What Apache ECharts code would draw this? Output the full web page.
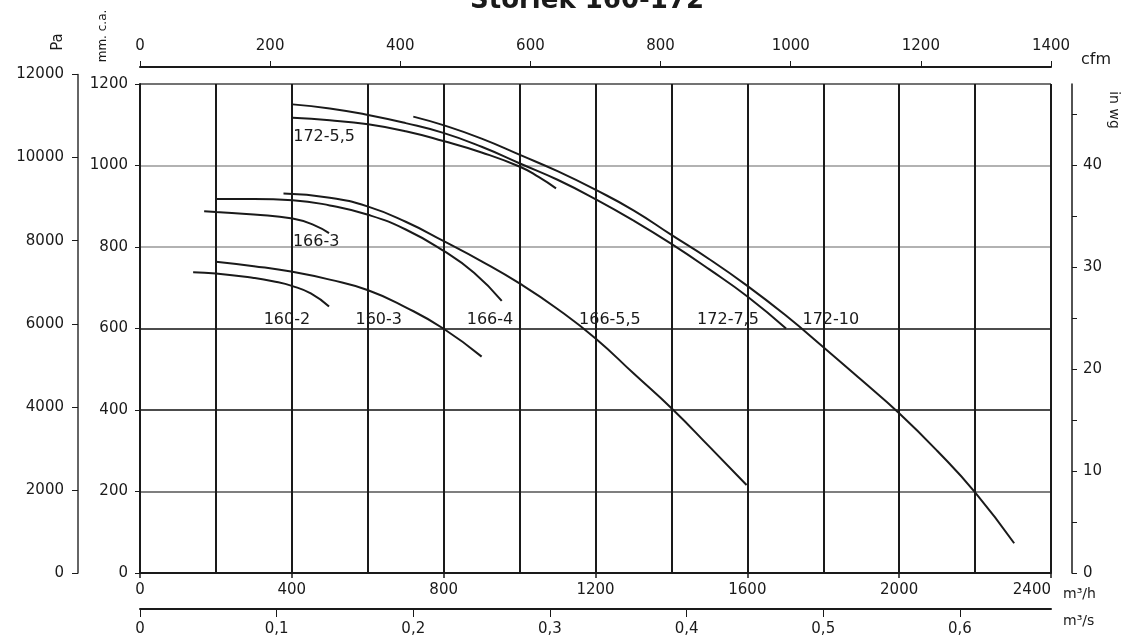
<!DOCTYPE html>
<html>
<head>
<meta charset="utf-8">
<script src="https://cdn.jsdelivr.net/npm/echarts@6/dist/echarts.min.js"></script>
<style>
html,body{margin:0;padding:0;background:#fff}
#chart{width:1135px;height:641px}
</style>
</head>
<body>
<div id="chart"></div>
<script>
// fan curves: [flow m3/h, pressure mm c.a.]
var curve160_2 = [[140,738],[200,735],[300,724],[350,716],[402,704],[450,686],[498,654]];
var curve160_3 = [[200,764],[300,753],[402,739],[500,720],[601,694],[700,652],[799,600],[900,531]];
var curve166_3 = [[169,888],[200,886],[300,880],[402,870],[460,853],[498,834]];
var curve166_4 = [[200,918],[300,918],[402,915],[500,902],[601,879],[700,843],[799,791],[880,737],[953,668]];
var curve166_55 = [[378,931],[500,921],[601,899],[700,862],[799,815],[900,765],[1001,710],[1100,648],[1201,575],[1300,490],[1405,400],[1500,310],[1598,216]];
var curve172_55 = [[402,1117],[500,1111],[601,1101],[700,1084],[799,1060],[900,1032],[1001,997],[1050,972],[1096,944]];
var curve172_75 = [[402,1150],[500,1140],[601,1124],[700,1104],[799,1080],[900,1046],[1001,1005],[1100,965],[1201,917],[1300,865],[1401,807],[1500,745],[1601,678],[1702,600]];
var curve172_10 = [[720,1120],[799,1099],[900,1066],[1001,1026],[1100,986],[1201,940],[1300,890],[1401,829],[1500,770],[1601,704],[1700,633],[1802,553],[1900,474],[2000,392],[2100,300],[2200,198],[2303,73]];

var curves = [curve160_2, curve160_3, curve166_3, curve166_4, curve166_55, curve172_55, curve172_75, curve172_10];
var curveNames = ['160-2', '160-3', '166-3', '166-4', '166-5,5', '172-5,5', '172-7,5', '172-10'];
// where each name sits (m3/h, mm c.a.)
var labelFlow = [387, 629, 464, 922, 1238, 485, 1549, 1820];
var labelPress = [622, 622, 813, 622, 622, 1070, 622, 622];

var flowTicks = [0, 400, 800, 1200, 1600, 2000, 2400];
var m3sTicks = [0, 0.1, 0.2, 0.3, 0.4, 0.5, 0.6];
var inwgTicks = [0, 10, 20, 30, 40];
var inwgMinorTicks = [0, 5, 10, 15, 20, 25, 30, 35, 40, 45];

var FONT = 'DejaVu Sans';
var INK = '#1a1a1a';
function plain(v) { return String(v); }
var lbl = {fontFamily: FONT, fontSize: 15, color: INK, formatter: plain};

var chart = echarts.init(document.getElementById('chart'));

var series = curves.map(function (c, i) {
	return {
		name: curveNames[i],
		type: 'line',
		data: c,
		smooth: 0.5,
		showSymbol: false,
		silent: true,
		lineStyle: {color: INK, width: 2}
	};
});

series.push({
	type: 'scatter',
	symbolSize: 0,
	silent: true,
	itemStyle: {color: INK, opacity: 1},
	data: labelFlow.map(function (x, i) { return [x, labelPress[i], curveNames[i]]; }),
	label: {
		show: true,
		position: 'inside',
		formatter: function (p) { return p.data[2]; },
		fontFamily: FONT,
		fontSize: 16,
		color: INK,
		opacity: 1
	}
});

var option = {
	animation: false,
	backgroundColor: '#fff',
	title: {
		text: 'Storlek 160-172',
		left: 470,
		top: -12,
		padding: 0,
		textStyle: {fontFamily: FONT, fontWeight: 'bold', fontSize: 26, color: INK}
	},
	grid: [
		{left: 140, right: 84, top: 84, bottom: 68},
		{left: 78, width: 1, top: 74.5, bottom: 68}
	],
	xAxis: [{
		gridIndex: 0, type: 'value', position: 'bottom',
		min: 0, max: 2400, interval: 200,
		name: 'm³/h', nameLocation: 'end', nameGap: 12, nameMoveOverlap: false,
		nameTextStyle: {fontFamily: FONT, fontSize: 14, color: INK, verticalAlign: 'top', padding: [14, 0, 0, 0]},
		axisLine: {show: true, onZero: false, lineStyle: {color: INK, width: 2}},
		axisTick: {show: false},
		axisLabel: Object.assign({customValues: flowTicks, margin: 10, alignMaxLabel: 'right'}, lbl),
		splitLine: {show: true, lineStyle: {color: INK, width: 2}}
	}, {
		gridIndex: 0, type: 'value', position: 'top', offset: 17,
		min: 0, max: 1400, interval: 200,
		axisLine: {show: true, onZero: false, lineStyle: {color: INK, width: 2}},
		axisTick: {show: true, length: 6, lineStyle: {color: INK}},
		axisLabel: Object.assign({margin: 13}, lbl),
		splitLine: {show: false}
	}, {
		gridIndex: 0, type: 'value', position: 'bottom', offset: 36,
		min: 0, max: 2400 / 3600,
		name: 'm³/s', nameLocation: 'end', nameGap: 12, nameMoveOverlap: false,
		nameTextStyle: {fontFamily: FONT, fontSize: 14, color: INK, verticalAlign: 'top', padding: [5, 0, 0, 0]},
		axisLine: {show: true, onZero: false, lineStyle: {color: INK, width: 2}},
		axisTick: {show: true, customValues: m3sTicks, length: 8, lineStyle: {color: INK}},
		axisLabel: Object.assign({}, lbl, {
			customValues: m3sTicks, margin: 13,
			formatter: function (v) { return String(+v.toFixed(1)).replace('.', ','); }
		}),
		splitLine: {show: false}
	}, {
		// tick marks under the m3/h axis, every 400
		gridIndex: 0, type: 'value', position: 'bottom',
		min: 0, max: 2400,
		axisLine: {show: false, onZero: false},
		axisTick: {show: true, customValues: flowTicks, length: 5, lineStyle: {color: INK, width: 1.5}},
		axisLabel: {show: false},
		splitLine: {show: false}
	}, {
		gridIndex: 1, type: 'value', show: false, min: 0, max: 1
	}],
	yAxis: [{
		gridIndex: 0, type: 'value', position: 'left',
		min: 0, max: 1200, interval: 200,
		axisLine: {show: true, onZero: false, lineStyle: {color: INK, width: 2}},
		axisTick: {show: true, length: 5, lineStyle: {color: INK}},
		axisLabel: Object.assign({margin: 12}, lbl),
		splitLine: {show: true, lineStyle: {color: ['#111', '#555', '#111', '#111', '#999', '#999', '#444'], width: 1.5}}
	}, {
		gridIndex: 0, type: 'value', position: 'right', offset: 21,
		min: 0, max: 48,
		axisLine: {show: true, onZero: false, lineStyle: {color: INK, width: 1.5}},
		axisTick: {show: true, customValues: inwgMinorTicks, length: 5, lineStyle: {color: INK}},
		axisLabel: Object.assign({customValues: inwgTicks, margin: 11}, lbl),
		splitLine: {show: false}
	}, {
		gridIndex: 1, type: 'value', position: 'left',
		min: 0, max: 12000, interval: 2000,
		axisLine: {show: true, onZero: false, lineStyle: {color: '#333', width: 1.5}},
		axisTick: {show: true, length: 6, lineStyle: {color: INK}},
		axisLabel: Object.assign({margin: 14}, lbl),
		splitLine: {show: false}
	}],
	graphic: [{
		type: 'text', x: 58, y: 42, rotation: Math.PI / 2,
		style: {text: 'Pa', font: '15px "DejaVu Sans"', fill: INK, align: 'center', verticalAlign: 'middle'}
	}, {
		type: 'text', x: 103, y: 36, rotation: Math.PI / 2,
		style: {text: 'mm. c.a.', font: '12px "DejaVu Sans"', fill: INK, align: 'center', verticalAlign: 'middle'}
	}, {
		type: 'text', x: 1096, y: 60,
		style: {text: 'cfm', font: '16px "DejaVu Sans"', fill: INK, align: 'center', verticalAlign: 'middle'}
	}, {
		type: 'text', x: 1114, y: 110, rotation: -Math.PI / 2,
		style: {text: 'in wg', font: '14px "DejaVu Sans"', fill: INK, align: 'center', verticalAlign: 'middle'}
	}],
	series: series
};

// curves and labels live on the m3/h and mm c.a. axes
option.series.forEach(function (s) { s.xAxisIndex = 0; s.yAxisIndex = 0; });

chart.setOption(option);
</script>
</body>
</html>
